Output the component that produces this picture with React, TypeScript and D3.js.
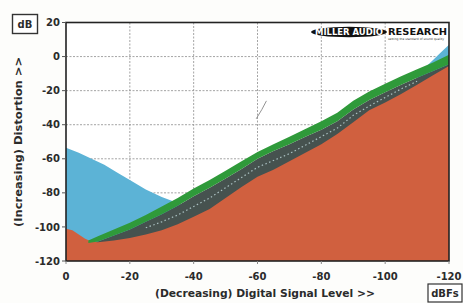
import React from 'react';
import * as d3 from 'd3';

const xTicks = [0, -20, -40, -60, -80, -100, -120];
const yTicks = [20, 0, -20, -40, -60, -80, -100, -120];
const gridX = [-20, -40, -60, -80, -100];
const gridY = [0, -20, -40, -60, -80, -100];

// Red (noise floor) area: level (dBFS) -> dB
const redLevels = [0, -2, -4, -6, -8, -10, -15, -20, -25, -30, -35, -40, -45, -50, -55, -60, -65, -70, -75, -80, -85, -90, -95, -100, -105, -110, -115, -120];
const redTop = [-101, -102, -104.5, -107, -108.5, -109, -108, -106.5, -104.5, -102, -98.5, -94, -89.5, -83, -76.5, -70.5, -66.5, -61.5, -56.5, -51.5, -45.5, -38.5, -31.5, -27, -22, -16.5, -11, -5.5];

// Green band (upper / lower edges)
const greenLevels = [-7, -10, -15, -20, -25, -30, -35, -40, -45, -50, -55, -60, -65, -70, -75, -80, -85, -90, -95, -100, -105, -110, -115, -120];
const greenTop = [-108, -105.5, -101.5, -97.5, -93, -88, -83, -77.5, -72.5, -67, -61.5, -56, -51.5, -47, -42.5, -38, -33, -26, -20.5, -16, -11.5, -7.5, -3.5, 1];
const greenBottom = [-109.5, -108.5, -105, -101.5, -97, -92.5, -87.5, -82, -77, -71.5, -66, -60, -55.5, -51.5, -47, -43, -38, -31, -25.5, -21, -16.5, -12.5, -8.5, -4.5];

// Dotted trace inside grey band
const dotLevels = [-25, -30, -35, -40, -45, -50, -55, -60, -65, -70, -75, -80, -85, -90, -95, -100, -105, -110];
const dotValues = [-100.5, -97, -93, -88, -83, -77, -71, -65, -61, -57, -52, -47, -42, -34.5, -29, -24, -19, -14.5];

// Blue area (left part and right wedge)
const blueLeftLevels = [0, -4, -8, -12, -16, -20, -25, -30, -35, -37];
const blueLeftTop = [-53.5, -56.5, -60, -63.5, -68, -72.5, -78, -82.5, -86, -88];
const blueRightLevels = [-110, -113, -115, -117.5, -120];
const blueRightTop = [-9, -5.5, -2, 2.5, 7];

const W = 463;
const H = 303;

export default function App() {
  const x = d3.scaleLinear().domain([0, -120]).range([66, 449]);
  const y = d3.scaleLinear().domain([20, -120]).range([22.5, 261]);
  const base = y(-120);

  const areaToBase = (lv: number[], vals: number[]) =>
    d3.area<number>().x((_, i) => x(lv[i])).y0(base).y1((d) => y(d))(vals) || '';

  const band = d3
    .area<number>()
    .x((_, i) => x(greenLevels[i]))
    .y0((_, i) => y(greenBottom[i]))
    .y1((d) => y(d))(greenTop) || '';

  const dotLine = d3.line<number>().x((_, i) => x(dotLevels[i])).y((d) => y(d))(dotValues) || '';

  const font = "'DejaVu Sans', Verdana, sans-serif";
  const txt = '#2b2b2b';

  return (
    <svg width={W} height={H} style={{ position: 'absolute', left: 0, top: 0, background: '#fff' }} fontFamily={font}>
      <defs>
        <clipPath id="plot">
          <rect x={x(0)} y={y(20)} width={x(-120) - x(0)} height={base - y(20)} />
        </clipPath>
      </defs>
      <rect width={W} height={H} fill="#fdfdfb" />
      <rect x={x(0)} y={y(20)} width={x(-120) - x(0)} height={base - y(20)} fill="#ffffff" />
      {/* grid */}
      {gridY.map((v) => (
        <line key={'gy' + v} x1={x(0)} x2={x(-120)} y1={y(v)} y2={y(v)} stroke="#9a9a9a" strokeWidth={0.9} strokeDasharray="2,1.5" />
      ))}
      {gridX.map((v) => (
        <line key={'gx' + v} x1={x(v)} x2={x(v)} y1={y(20)} y2={base} stroke="#9a9a9a" strokeWidth={0.9} strokeDasharray="2,1.5" />
      ))}
      <g clipPath="url(#plot)">
        <path d={areaToBase(blueLeftLevels, blueLeftTop)} fill="#5cb3d6" />
        <path d={areaToBase(blueRightLevels, blueRightTop)} fill="#5cb3d6" />
        <path d={areaToBase(greenLevels, greenBottom)} fill="#46524f" />
        <path d={areaToBase(redLevels, redTop)} fill="#d0603f" />
        <path d={band} fill="#2f9a3a" />
        <path d={dotLine} fill="none" stroke="#a9bfc0" strokeWidth={1.2} strokeDasharray="1.5,2.5" />
        <path
          d={`M${x(-62.8)},${y(-26)} Q${x(-61.5)},${y(-31)} ${x(-59.6)},${y(-36.5)}`}
          fill="none"
          stroke="#777"
          strokeWidth={0.8}
        />
      </g>
      {/* frame */}
      <rect x={x(0)} y={y(20)} width={x(-120) - x(0)} height={base - y(20)} fill="none" stroke="#222" strokeWidth={1.6} />
      {/* y ticks */}
      {yTicks.map((v) => (
        <g key={'yt' + v}>
          <line x1={x(0) - 4} x2={x(0)} y1={y(v)} y2={y(v)} stroke="#555" strokeWidth={1} />
          <text x={x(0) - 6} y={y(v)} dy="0.36em" textAnchor="end" fontSize={10} fontWeight="bold" fill={txt}>
            {v}
          </text>
        </g>
      ))}
      {/* x ticks */}
      {xTicks.map((v) => (
        <g key={'xt' + v}>
          <line x1={x(v)} x2={x(v)} y1={base} y2={base + 3} stroke="#888" strokeWidth={1} />
          <text x={x(v)} y={280} textAnchor="middle" fontSize={10} fontWeight="bold" fill={txt}>
            {v}
          </text>
        </g>
      ))}
      {/* dB box */}
      <rect x={12.5} y={14.5} width={25} height={19} fill="#fff" stroke="#333" strokeWidth={1.4} />
      <text x={25} y={28} textAnchor="middle" fontSize={10} fontWeight="bold" fill={txt}>
        dB
      </text>
      {/* dBFs box */}
      <rect x={428} y={284} width={34} height={18} fill="#fff" stroke="#333" strokeWidth={1.2} />
      <text x={445} y={297} textAnchor="middle" fontSize={10} fontWeight="bold" fill={txt}>
        dBFs
      </text>
      {/* axis titles */}
      <text x={265} y={297} textAnchor="middle" fontSize={10} fontWeight="bold" fill={txt} textLength={220} lengthAdjust="spacingAndGlyphs">
        (Decreasing) Digital Signal Level &gt;&gt;
      </text>
      <text
        transform={`translate(22,142) rotate(-90)`}
        textAnchor="middle"
        fontSize={10}
        fontWeight="bold"
        fill={txt}
        textLength={170}
        lengthAdjust="spacingAndGlyphs"
      >
        (Increasing) Distortion &gt;&gt;
      </text>
      {/* logo */}
      <ellipse cx={349} cy={32} rx={38} ry={5.2} fill="#111" />
      <text x={349} y={35} textAnchor="middle" fontSize={8} fontWeight="bold" fill="#fff" textLength={68} lengthAdjust="spacingAndGlyphs">
        MILLER AUDIO
      </text>
      <text x={388} y={35} fontSize={8} fontWeight="bold" fill="#111" textLength={59} lengthAdjust="spacingAndGlyphs">
        RESEARCH
      </text>
      <text x={388} y={40} fontSize={3} fill="#333" textLength={56} lengthAdjust="spacingAndGlyphs">
        setting the standard of sound quality
      </text>
    </svg>
  );
}
